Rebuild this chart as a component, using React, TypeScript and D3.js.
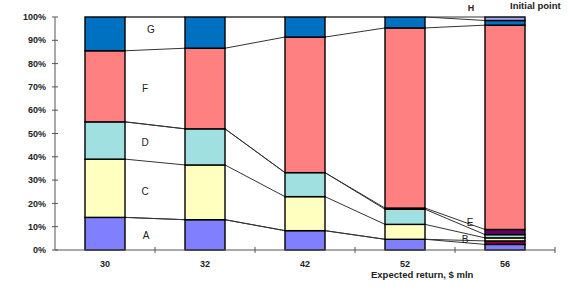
import React from "react";
import * as d3 from "d3";

const categories = ["30", "32", "42", "52", "56"];
const keys = ["A", "B", "C", "D", "E", "F", "G", "H"];
const seriesA = [14, 13, 8.3, 4.6, 2.4];
const seriesB = [0, 0, 0, 0, 1.5];
const seriesC = [25, 23.5, 14.6, 6.4, 1.3];
const seriesD = [16, 15.5, 10.3, 6.5, 1.4];
const seriesE = [0, 0, 0, 0.5, 2.2];
const seriesF = [30.5, 34.6, 58.2, 77.3, 87.7];
const seriesG = [14.5, 13.4, 8.6, 4.7, 2];
const seriesH = [0, 0, 0, 0, 1.5];
const yTicks = [0, 10, 20, 30, 40, 50, 60, 70, 80, 90, 100];
const xTitle = "Expected return, $ mln";

const colors: Record<string, string> = {
  A: "#8080FF",
  B: "#800040",
  C: "#FFFFC0",
  D: "#A0E0E0",
  E: "#660066",
  F: "#FF8080",
  G: "#0070C0",
  H: "#A8A8F0",
};

const segLabels = [
  { t: "G", x: 151, v: 94.8 },
  { t: "F", x: 145, v: 69.5 },
  { t: "D", x: 145, v: 46 },
  { t: "C", x: 145, v: 25 },
  { t: "A", x: 146, v: 6.4 },
  { t: "E", x: 470, v: 12 },
  { t: "B", x: 465, v: 4.3 },
];

export default function App() {
  const W = 573, H = 290;
  const series: Record<string, number[]> = {
    A: seriesA, B: seriesB, C: seriesC, D: seriesD,
    E: seriesE, F: seriesF, G: seriesG, H: seriesH,
  };
  const table = categories.map((c, i) => {
    const row: any = { cat: c };
    keys.forEach((k) => (row[k] = series[k][i]));
    return row;
  });
  const stacked = d3.stack<any>().keys(keys)(table);
  const x = d3.scaleBand().domain(categories).range([55, 555]).paddingInner(0.6).paddingOuter(0.3);
  const y = d3.scaleLinear().domain([0, 100]).range([250, 17]);
  const bw = x.bandwidth();
  const font = "'Liberation Sans', Arial, sans-serif";
  const txt = "#222";

  const connectors: any[] = [];
  stacked.forEach((s) => {
    for (let i = 0; i < categories.length - 1; i++) {
      const x1 = (x(categories[i]) as number) + bw;
      const x2 = x(categories[i + 1]) as number;
      connectors.push(
        <line key={s.key + i} x1={x1} x2={x2} y1={y(s[i][1])} y2={y(s[i + 1][1])}
          stroke="#333" strokeWidth={1} />
      );
    }
  });

  return (
    <svg width={W} height={H} style={{ position: "absolute", left: 0, top: 0, background: "#fff" }}>
      {connectors}
      {stacked.map((s) =>
        s.map((d, i) =>
          d[1] - d[0] > 0 ? (
            <rect key={s.key + i} x={x(categories[i])} width={bw} y={y(d[1])} height={y(d[0]) - y(d[1])}
              fill={colors[s.key]} stroke="#000" strokeWidth={1.4} />
          ) : null
        )
      )}
      <line x1={55} x2={55} y1={y(100)} y2={y(0)} stroke="#555" strokeWidth={1} />
      {yTicks.map((t) => (
        <g key={t}>
          <line x1={52} x2={58} y1={y(t)} y2={y(t)} stroke="#555" />
          <text x={46} y={y(t)} dy="0.35em" textAnchor="end" fontFamily={font} fontWeight="bold" fontSize={9} fill={txt}>
            {t}%
          </text>
        </g>
      ))}
      <line x1={55} x2={555} y1={250} y2={250} stroke="#555" />
      {categories.map((c, i) => (
        <line key={"xt" + i} x1={55 + (i + 1) * x.step()} x2={55 + (i + 1) * x.step()} y1={247} y2={253} stroke="#555" />
      ))}
      {categories.map((c) => (
        <text key={"xl" + c} x={(x(c) as number) + bw / 2} y={267} textAnchor="middle" fontFamily={font} fontWeight="bold" fontSize={9} fill={txt}>
          {c}
        </text>
      ))}
      <text x={371} y={278} fontFamily={font} fontWeight="bold" fontSize={9.5} fill={txt}>{xTitle}</text>
      {segLabels.map((l) => (
        <text key={l.t} x={l.x} y={y(l.v)} dy="0.35em" textAnchor="middle" fontFamily={font} fontSize={10} fill={txt}>
          {l.t}
        </text>
      ))}
      <text x={471} y={11} textAnchor="middle" fontFamily={font} fontWeight="bold" fontSize={9} fill="#402020">H</text>
      <text x={510} y={9} fontFamily={font} fontWeight="bold" fontSize={9.5} fill={txt}>Initial point</text>
    </svg>
  );
}
